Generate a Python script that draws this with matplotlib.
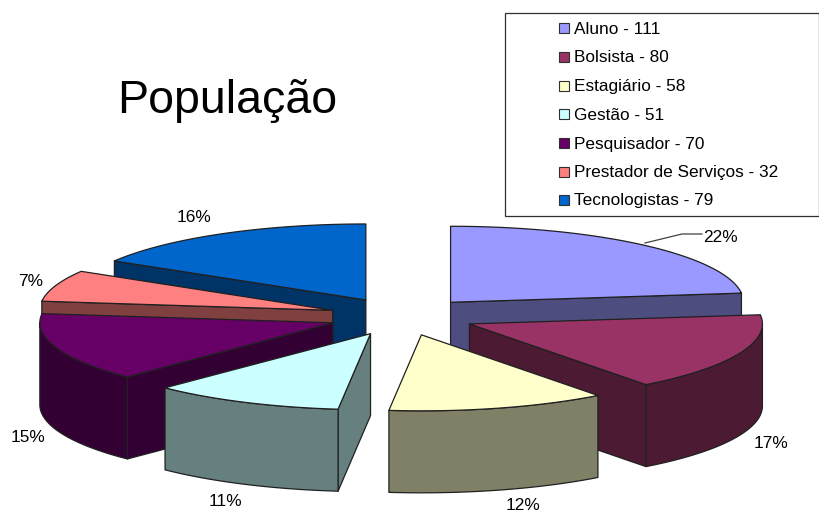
import numpy as np
import matplotlib
matplotlib.use("Agg")
import matplotlib.pyplot as plt
from matplotlib.patches import Rectangle

plt.rcParams['font.family'] = ['Liberation Sans', 'DejaVu Sans']

categories = ["Aluno", "Bolsista", "Estagiário", "Gestão", "Pesquisador", "Prestador de Serviços", "Tecnologistas"]
values = [111, 80, 58, 51, 70, 32, 79]
# the labels in the original do not add up exactly, so keep them as printed
pct_labels = ["22%", "17%", "12%", "11%", "15%", "7%", "16%"]
colors = ["#9999FF", "#993366", "#FFFFCC", "#CCFFFF", "#660066", "#FF8080", "#0066CC"]
label_xy = [(720, 237), (771, 444), (523, 505.5), (225, 502), (28, 437), (31, 282), (194, 218)]

# pie geometry, in pixels of the 819x513 picture
CX, CY = 402, 316.5
RX, RY = 293, 76
EXPLODE = 0.25
DEPTH = 82

fig = plt.figure(figsize=(8.19, 5.13), dpi=100)
ax = fig.add_axes([0, 0, 1, 1])
ax.set_xlim(0, 819)
ax.set_ylim(513, 0)
ax.axis("off")


def darker(color):
    r, g, b, _ = matplotlib.colors.to_rgba(color)
    return (r * 0.5, g * 0.5, b * 0.5)


def face(xs, ys, color, z):
    ax.fill(xs, ys, facecolor=color, edgecolor="#202020", linewidth=0.9, joinstyle="round", zorder=z)


def draw_slice(start, end, color, z):
    mid = (start + end) / 2
    ax_ = CX + EXPLODE * RX * np.sin(mid)
    ay_ = CY - EXPLODE * RY * np.cos(mid)

    def rim(t):
        return ax_ + RX * np.sin(t), ay_ - RY * np.cos(t)

    side = darker(color)
    # flat cut faces, only the ones turned toward the viewer
    for t, visible in ((start, np.sin(start) < -1e-6), (end, np.sin(end) > 1e-6)):
        if visible:
            x, y = rim(t)
            face([ax_, x, x, ax_], [ay_, y, y + DEPTH, ay_ + DEPTH], side, z)

    # curved outer wall, front half of the ellipse only
    lo, hi = max(start, np.pi / 2), min(end, 3 * np.pi / 2)
    if hi > lo:
        t = np.linspace(lo, hi, 80)
        x, y = rim(t)
        face(np.r_[x, x[::-1]], np.r_[y, y[::-1] + DEPTH], side, z)

    # top
    t = np.linspace(start, end, 120)
    x, y = rim(t)
    face(np.r_[ax_, x], np.r_[ay_, y], color, z)


total = sum(values)
edges = np.r_[0, np.cumsum(values)] / total * 2 * np.pi
mids = (edges[:-1] + edges[1:]) / 2
# back slices first
order = np.argsort(-np.cos(mids))
for z, i in enumerate(order):
    draw_slice(edges[i], edges[i + 1], colors[i], z + 2)

for lab, (x, y) in zip(pct_labels, label_xy):
    ax.text(x, y, lab, fontsize=12.4, ha="center", va="center", color="black", zorder=20)

# leader line of the first label
ax.plot([645, 682, 702], [243, 234, 234], color="#404040", linewidth=0.9, zorder=20)

ax.text(227, 101, "População", fontsize=33.5, ha="center", va="center", color="black", zorder=20)

# legend box
ax.add_patch(Rectangle((504.5, 12.5), 314, 203, facecolor="white", edgecolor="#303030", linewidth=0.9, zorder=15))
legend_y = [29, 58, 86.5, 115, 144, 173, 201]
for name, val, col, y in zip(categories, values, colors, legend_y):
    ax.add_patch(Rectangle((558.5, y - 6), 10, 10, facecolor=col, edgecolor="#303030", linewidth=0.8, zorder=16))
    ax.text(574, y, f"{name} - {val}", fontsize=12.4, ha="left", va="center", color="black", zorder=16)

fig.savefig("out.png", dpi=100, facecolor="white")
